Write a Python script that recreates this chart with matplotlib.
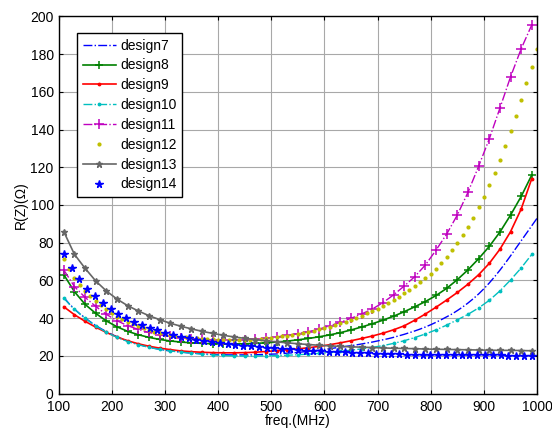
import numpy as np
import matplotlib
matplotlib.use("Agg")
from matplotlib import pyplot as plt

plt.rcParams['font.family'] = ['Liberation Sans', 'DejaVu Sans']
plt.rcParams['font.size'] = 10

# frequency grids (MHz)
f10 = np.arange(110, 1001, 10)        # design7, design12
f20 = np.arange(110, 991, 20)         # design8/9/10/11/13
f14 = np.linspace(110, 990, 61)       # design14

# R(Z) in ohm
design7 = [51.0, 47.6, 44.8, 42.3, 40.1, 38.0, 36.1, 34.4, 32.8, 31.4,
           30.1, 28.9, 27.8, 26.9, 26.1, 25.3, 24.6, 24.0, 23.5, 23.0,
           22.6, 22.3, 22.0, 21.7, 21.5, 21.3, 21.1, 20.9, 20.8, 20.7,
           20.6, 20.5, 20.5, 20.5, 20.5, 20.5, 20.6, 20.7, 20.8, 20.9,
           21.0, 21.2, 21.4, 21.6, 21.8, 22.1, 22.4, 22.7, 23.0, 23.4,
           23.8, 24.2, 24.6, 25.0, 25.4, 25.8, 26.3, 26.8, 27.3, 27.9,
           28.5, 29.1, 29.8, 30.6, 31.4, 32.3, 33.2, 34.2, 35.3, 36.5,
           37.8, 39.2, 40.7, 42.2, 44.0, 45.9, 48.0, 50.3, 52.8, 55.6,
           58.6, 61.9, 65.4, 69.1, 73.0, 77.0, 81.0, 85.0, 89.0, 93.0]
design8 = [63.0, 54.0, 47.3, 42.5, 38.5, 35.4, 33.0, 31.2, 29.8, 28.7,
           27.9, 27.3, 26.9, 26.6, 26.4, 26.3, 26.3, 26.4, 26.6, 26.9,
           27.3, 27.8, 28.5, 29.2, 30.1, 31.1, 32.3, 33.7, 35.3, 37.0,
           38.9, 41.0, 43.4, 46.0, 48.8, 52.0, 55.8, 60.4, 65.6, 71.5,
           78.0, 85.6, 94.6, 104.5, 115.9]
design9 = [46.0, 41.8, 38.3, 35.2, 32.4, 30.0, 28.0, 26.4, 25.1, 24.1,
           23.3, 22.6, 22.2, 21.9, 21.7, 21.6, 21.6, 21.7, 21.9, 22.3,
           22.7, 23.2, 23.7, 24.3, 25.0, 25.9, 26.9, 28.0, 29.2, 30.5,
           32.0, 33.8, 35.9, 38.9, 42.2, 45.8, 49.6, 53.6, 58.0, 63.0,
           69.0, 76.5, 85.8, 97.8, 114.0]
design10 = [50.5, 44.6, 39.9, 35.9, 32.5, 29.8, 27.6, 25.9, 24.5, 23.4,
            22.6, 22.0, 21.4, 20.9, 20.5, 20.2, 20.0, 19.9, 19.9, 20.0,
            20.1, 20.3, 20.6, 20.9, 21.3, 21.8, 22.4, 23.0, 23.7, 24.5,
            25.4, 26.6, 28.0, 29.7, 31.6, 33.8, 36.3, 39.1, 42.0, 45.4,
            49.4, 54.4, 60.2, 66.6, 73.8]
design11 = [65.5, 56.7, 51.0, 46.2, 42.0, 38.6, 36.0, 34.0, 32.4, 31.2,
            30.3, 29.6, 29.1, 28.7, 28.5, 28.4, 28.4, 28.5, 28.8, 29.3,
            30.0, 30.8, 31.8, 32.8, 34.2, 35.9, 37.8, 39.9, 42.2, 44.8,
            48.2, 52.3, 57.0, 62.0, 68.2, 76.1, 84.6, 94.7, 106.7, 120.5,
            135.0, 151.3, 167.9, 182.8, 195.5]
design12 = [71.2, 65.9, 61.4, 57.7, 54.5, 51.7, 49.2, 46.8, 44.6, 42.6,
            40.8, 39.3, 37.9, 36.7, 35.6, 34.6, 33.7, 32.9, 32.2, 31.6,
            31.1, 30.6, 30.2, 29.8, 29.5, 29.2, 29.0, 28.8, 28.7, 28.6,
            28.5, 28.5, 28.5, 28.5, 28.5, 28.6, 28.8, 29.0, 29.3, 29.6,
            29.9, 30.3, 30.7, 31.1, 31.6, 32.1, 32.7, 33.3, 34.0, 34.7,
            35.5, 36.3, 37.2, 38.1, 39.1, 40.2, 41.3, 42.5, 43.8, 45.1,
            46.5, 48.0, 49.6, 51.3, 53.1, 55.0, 57.0, 59.0, 61.1, 63.3,
            66.0, 69.1, 72.3, 76.0, 79.7, 83.9, 88.5, 93.1, 98.8, 104.2,
            110.4, 117.1, 123.9, 131.1, 139.3, 147.2, 155.7, 164.7, 173.4, 182.6]
design13 = [85.8, 73.8, 66.4, 59.7, 54.4, 50.1, 46.6, 43.8, 41.3, 39.2,
            37.3, 35.7, 34.3, 33.0, 31.9, 30.9, 30.0, 29.3, 28.6, 28.0,
            27.4, 26.9, 26.4, 26.0, 25.6, 25.3, 25.0, 24.8, 24.6, 24.4,
            24.2, 24.0, 23.9, 23.8, 23.6, 23.5, 23.4, 23.3, 23.2, 23.1,
            23.0, 22.9, 22.9, 22.8, 22.7]
design14 = [74.0, 66.6, 60.5, 55.6, 51.5, 48.0, 45.0, 42.4, 40.1, 38.1,
            36.4, 34.9, 33.5, 32.3, 31.2, 30.2, 29.4, 28.6, 27.9, 27.3,
            26.8, 26.3, 25.8, 25.4, 25.0, 24.6, 24.3, 24.0, 23.7, 23.4,
            23.1, 22.8, 22.6, 22.4, 22.2, 22.0, 21.8, 21.6, 21.4, 21.3,
            21.1, 21.0, 20.9, 20.8, 20.7, 20.6, 20.6, 20.5, 20.5, 20.4,
            20.4, 20.3, 20.3, 20.3, 20.2, 20.2, 20.2, 20.1, 20.1, 20.1,
            20.0]

fig = plt.figure(figsize=(5.52, 4.32), dpi=100)
ax = fig.add_axes([0.106, 0.089, 0.867, 0.873])

ax.plot(f10, design7, color='#0000ff', ls='-.', lw=1.0, label='design7')
ax.plot(f20, design8, color='#008000', ls='-', lw=1.2, marker='+', ms=6, mew=1.1, label='design8')
ax.plot(f20, design9, color='#ff0000', ls='-', lw=1.2, marker='.', ms=3.5, label='design9')
ax.plot(f20, design10, color='#00bfbf', ls='-.', lw=1.0, marker='.', ms=3.5, label='design10')
ax.plot(f20, design11, color='#bf00bf', ls='-.', lw=1.0, marker='+', ms=7, mew=1.1, label='design11')
ax.plot(f10, design12, color='#bfbf00', ls='none', marker='.', ms=4, label='design12')
ax.plot(f20, design13, color='#666666', ls='-', lw=1.2, marker='*', ms=5, label='design13')
ax.plot(f14, design14, color='#0000ff', ls='none', marker='*', ms=5.5, label='design14')

ax.set_xlim(100, 1000)
ax.set_ylim(0, 200)
ax.set_xticks(np.arange(100, 1001, 100))
ax.set_yticks(np.arange(0, 201, 20))
ax.grid(True, color='#a8a8a8', lw=0.8)
ax.set_axisbelow(True)
ax.tick_params(direction='in', top=True, right=True, length=3, labelsize=10)
ax.tick_params(axis='x', pad=5)
for s in ax.spines.values():
    s.set_linewidth(1.0)

ax.set_xlabel('freq.(MHz)', labelpad=0)
ax.set_ylabel('R(Z)(Ω)', labelpad=2)

leg = ax.legend(loc='upper left', bbox_to_anchor=(0.039, 0.956), borderaxespad=0,
                numpoints=1, fancybox=False, framealpha=1, edgecolor='black',
                handlelength=2.4, handletextpad=0.3, labelspacing=0.42, fontsize=10)
leg.get_frame().set_linewidth(1.0)

fig.savefig('out.png', dpi=100)
